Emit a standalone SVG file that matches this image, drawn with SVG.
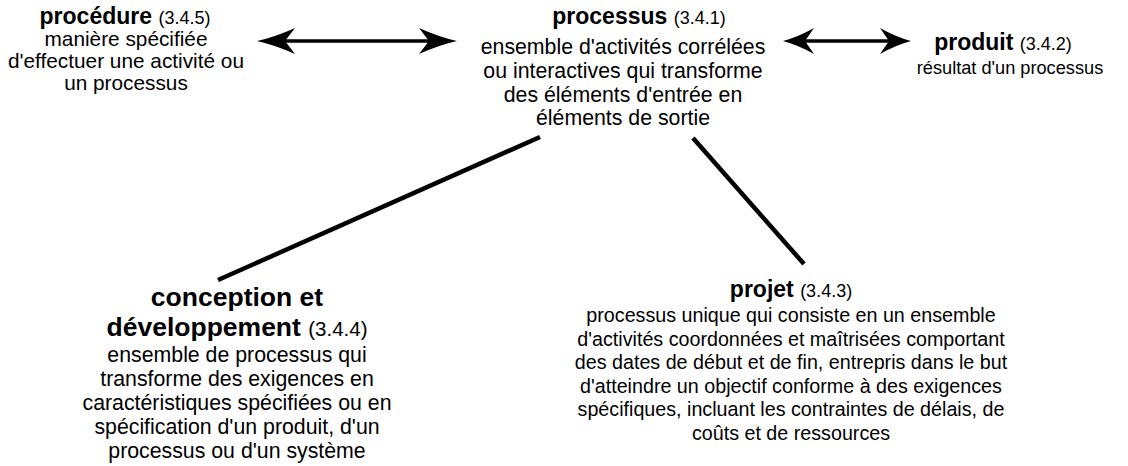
<svg xmlns="http://www.w3.org/2000/svg" width="1128" height="466" viewBox="0 0 1128 466">
  <style>
    text { font-family: "Liberation Sans", Arial, Helvetica, sans-serif; fill: #000; text-anchor: middle; }
    .title { font-weight: bold; font-size: 23px; }
    .title-lg { font-weight: bold; font-size: 26.5px; }
    .ref { font-weight: normal; font-size: 18px; }
    .title-lg .ref { font-size: 20.5px; }
    .body { font-size: 21.3px; }
    .body-md { font-size: 20.8px; }
    .body-sm { font-size: 19.7px; }
    .body-xs { font-size: 18.2px; }
    .link { stroke: #000; stroke-width: 4.5; stroke-linecap: butt; fill: none; }
    .dbl { stroke: #000; stroke-width: 3.5; fill: none; }
  </style>
  <defs>
    <marker id="barb-lg" viewBox="0 0 38 26" refX="18" refY="13" markerWidth="38" markerHeight="26" markerUnits="userSpaceOnUse" orient="auto-start-reverse">
      <path d="M0,0 Q20,9 38,13 Q20,17 0,26 L10,13 Z" fill="#000"/>
    </marker>
    <marker id="barb-sm" viewBox="0 0 31 26" refX="14" refY="13" markerWidth="31" markerHeight="26" markerUnits="userSpaceOnUse" orient="auto-start-reverse">
      <path d="M0,0 Q16,9 31,13 Q16,17 0,26 L9,13 Z" fill="#000"/>
    </marker>
  </defs>

  <!-- connectors -->
  <g id="connectors">
    <line class="dbl" x1="277" y1="41" x2="437" y2="41" marker-start="url(#barb-lg)" marker-end="url(#barb-lg)"/>
    <line class="dbl" x1="800" y1="41" x2="894" y2="41" marker-start="url(#barb-sm)" marker-end="url(#barb-sm)"/>
    <line class="link" x1="540" y1="137" x2="218" y2="280"/>
    <line class="link" x1="693" y1="138" x2="804" y2="264"/>
  </g>

  <g id="procedure">
    <text class="title" x="125" y="24">procédure <tspan class="ref">(3.4.5)</tspan></text>
    <text class="body-md" x="126" y="46">manière spécifiée</text>
    <text class="body-md" x="126" y="68">d'effectuer une activité ou</text>
    <text class="body-md" x="126" y="90">un processus</text>
  </g>

  <g id="processus">
    <text class="title" x="639" y="24">processus <tspan class="ref">(3.4.1)</tspan></text>
    <text class="body" x="623" y="54">ensemble d'activités corrélées</text>
    <text class="body" x="623" y="78">ou interactives qui transforme</text>
    <text class="body" x="623" y="102">des éléments d'entrée en</text>
    <text class="body" x="623" y="125">éléments de sortie</text>
  </g>

  <g id="produit">
    <text class="title" x="1003" y="50">produit <tspan class="ref">(3.4.2)</tspan></text>
    <text class="body-xs" x="1010" y="74">résultat d'un processus</text>
  </g>

  <g id="conception">
    <text class="title-lg" x="237" y="306">conception et</text>
    <text class="title-lg" x="237" y="336">développement <tspan class="ref">(3.4.4)</tspan></text>
    <text class="body" x="237" y="362">ensemble de processus qui</text>
    <text class="body" x="237" y="386">transforme des exigences en</text>
    <text class="body" x="237" y="410">caractéristiques spécifiées ou en</text>
    <text class="body" x="237" y="434">spécification d'un produit, d'un</text>
    <text class="body" x="237" y="458">processus ou d'un système</text>
  </g>

  <g id="projet">
    <text class="title" x="791" y="297">projet <tspan class="ref">(3.4.3)</tspan></text>
    <text class="body-sm" x="791" y="322">processus unique qui consiste en un ensemble</text>
    <text class="body-sm" x="791" y="346">d'activités coordonnées et maîtrisées comportant</text>
    <text class="body-sm" x="791" y="369">des dates de début et de fin, entrepris dans le but</text>
    <text class="body-sm" x="791" y="393">d'atteindre un objectif conforme à des exigences</text>
    <text class="body-sm" x="791" y="416">spécifiques, incluant les contraintes de délais, de</text>
    <text class="body-sm" x="791" y="440">coûts et de ressources</text>
  </g>
</svg>
